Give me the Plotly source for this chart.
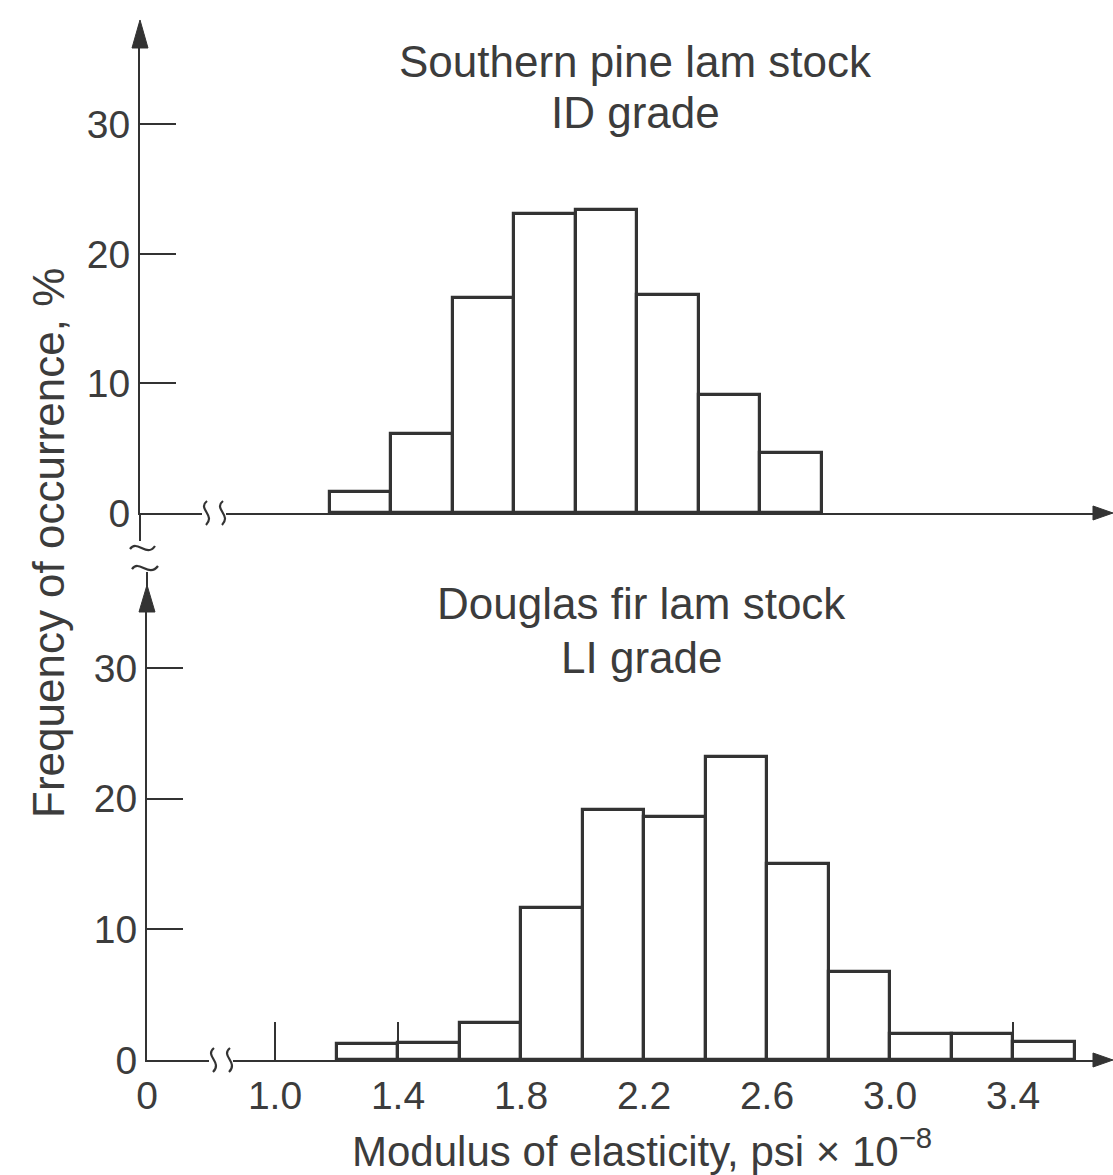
import plotly.graph_objects as go

# ---------------- data ----------------
bin_width = 0.2
top_bin_starts = [1.2, 1.4, 1.6, 1.8, 2.0, 2.2, 2.4, 2.6]
top_freq = [1.6, 6.1, 16.6, 23.1, 23.4, 16.8, 9.1, 4.6]
bottom_bin_starts = [1.2, 1.4, 1.6, 1.8, 2.0, 2.2, 2.4, 2.6, 2.8, 3.0, 3.2, 3.4]
bottom_freq = [1.2, 1.3, 2.8, 11.6, 19.1, 18.6, 23.2, 15.0, 6.7, 2.0, 2.0, 1.4]
x_tick_vals = [1.0, 1.4, 1.8, 2.2, 2.6, 3.0, 3.4]
x_tick_text = ["1.0", "1.4", "1.8", "2.2", "2.6", "3.0", "3.4"]
y_tick_vals = [0, 10, 20, 30]
y_tick_text = ["0", "10", "20", "30"]
top_title = ["Southern pine lam stock", "ID grade"]
bottom_title = ["Douglas fir lam stock", "LI grade"]
x_title = "Modulus of elasticity, psi × 10<sup>−8</sup>"
y_title = "Frequency of occurrence, %"

# ---------------- layout constants ----------------
W, H = 1113, 1175
FONT = "Liberation Sans, Arial, Helvetica, sans-serif"
INK = "#333333"
TXT = "#3c3c3c"
X_ORIGIN = 0.5837
X_END = 3.699


def px(x):
    return x / W


def py(y):
    return 1 - y / H


fig = go.Figure()

fig.add_trace(go.Bar(
    x=[s + bin_width / 2 for s in top_bin_starts], y=top_freq, width=bin_width,
    marker=dict(color="white", line=dict(color=INK, width=3.2)),
    xaxis="x", yaxis="y", showlegend=False, hoverinfo="skip"))
fig.add_trace(go.Bar(
    x=[s + bin_width / 2 for s in bottom_bin_starts], y=bottom_freq, width=bin_width,
    marker=dict(color="white", line=dict(color=INK, width=3.2)),
    xaxis="x2", yaxis="y2", showlegend=False, hoverinfo="skip"))

tickfont = dict(family=FONT, size=39, color=TXT)
common_y = dict(showline=True, linecolor=INK, linewidth=2, ticks="inside", ticklen=36,
                tickwidth=2, tickcolor=INK, tickvals=y_tick_vals, ticktext=y_tick_text,
                tickfont=tickfont, showgrid=False, zeroline=False, automargin=False,
                fixedrange=True)

fig.update_layout(
    width=W, height=H, autosize=False,
    margin=dict(l=0, r=0, t=0, b=0),
    paper_bgcolor="white", plot_bgcolor="rgba(0,0,0,0)",
    bargap=0, showlegend=False,
    xaxis=dict(domain=[px(140), px(1098)], range=[X_ORIGIN, X_END], showline=True,
               linecolor=INK, linewidth=2, showticklabels=False, ticks="",
               showgrid=False, zeroline=False, anchor="y", automargin=False),
    yaxis=dict(domain=[py(513), py(25)], range=[0, 37.68], anchor="x", **common_y),
    xaxis2=dict(domain=[px(147), px(1105)], range=[X_ORIGIN, X_END], showline=True,
                linecolor=INK, linewidth=2, ticks="inside", ticklen=38, tickwidth=2,
                tickcolor=INK, tickvals=[X_ORIGIN] + x_tick_vals,
                ticktext=["0"] + x_tick_text, tickfont=tickfont,
                showgrid=False, zeroline=False, anchor="y2", automargin=False),
    yaxis2=dict(domain=[py(1060), py(600)], range=[0, 35.2], anchor="x2", **common_y),
)

shapes = []


def path(points, closed=False):
    s = "M " + " L ".join(f"{px(x):.5f},{py(y):.5f}" for x, y in points)
    return s + (" Z" if closed else "")


def tri(points):
    shapes.append(dict(type="path", xref="paper", yref="paper", path=path(points, True),
                       fillcolor=INK, line=dict(color=INK, width=1), layer="above"))


def seg(points, w=2):
    shapes.append(dict(type="path", xref="paper", yref="paper", path=path(points),
                       line=dict(color=INK, width=w), layer="above"))


def curve(x0, y0, c1, c2, x1, y1, w=2.2):
    p = (f"M {px(x0):.5f},{py(y0):.5f} C {px(c1[0]):.5f},{py(c1[1]):.5f} "
         f"{px(c2[0]):.5f},{py(c2[1]):.5f} {px(x1):.5f},{py(y1):.5f}")
    shapes.append(dict(type="path", xref="paper", yref="paper", path=p,
                       line=dict(color=INK, width=w), layer="above"))


def white_rect(x0, y0, x1, y1):
    shapes.append(dict(type="rect", xref="paper", yref="paper", x0=px(x0), x1=px(x1),
                       y0=py(y1), y1=py(y0), fillcolor="white",
                       line=dict(width=0), layer="above"))


# arrows
tri([(140, 20), (132, 48), (148, 48)])          # top y axis
tri([(147, 585), (139, 612), (155, 612)])       # bottom y axis
tri([(1113, 513), (1093, 506), (1093, 520)])    # top x axis
tri([(1113, 1060), (1093, 1053), (1093, 1067)]) # bottom x axis

# vertical axis break between panels
seg([(140, 513), (140, 541)])
curve(130, 549, (137, 539), (147, 558), 155, 546)
curve(132, 569, (139, 559), (149, 578), 158, 566)
seg([(147, 572), (147, 600)])

# horizontal axis breaks (x-axis)
for ybase, x0 in [(513, 200), (1060, 207)]:
    white_rect(x0 + 2, ybase - 4, x0 + 26, ybase + 4)
    curve(x0 + 7, ybase - 12, (x0 - 3, ybase - 4), (x0 + 16, ybase + 2), x0 + 6, ybase + 12)
    curve(x0 + 23, ybase - 12, (x0 + 13, ybase - 4), (x0 + 32, ybase + 2), x0 + 22, ybase + 12)

fig.update_layout(shapes=shapes)

annots = []
tfont = dict(family=FONT, size=44, color=TXT)
for text, (x, y) in zip(top_title + bottom_title,
                        [(635, 62), (635, 113), (641, 603), (641, 657)]):
    annots.append(dict(text=text, x=px(x), y=py(y), xref="paper", yref="paper",
                       showarrow=False, font=tfont, xanchor="center", yanchor="middle"))
annots.append(dict(text=x_title, x=px(642), y=py(1148), xref="paper", yref="paper",
                   showarrow=False, font=dict(family=FONT, size=42, color=TXT),
                   xanchor="center", yanchor="middle"))
annots.append(dict(text=y_title, x=px(48), y=py(543), xref="paper", yref="paper",
                   showarrow=False, textangle=-90, font=dict(family=FONT, size=44, color=TXT),
                   xanchor="center", yanchor="middle"))
fig.update_layout(annotations=annots)

fig.write_html("out.html")
